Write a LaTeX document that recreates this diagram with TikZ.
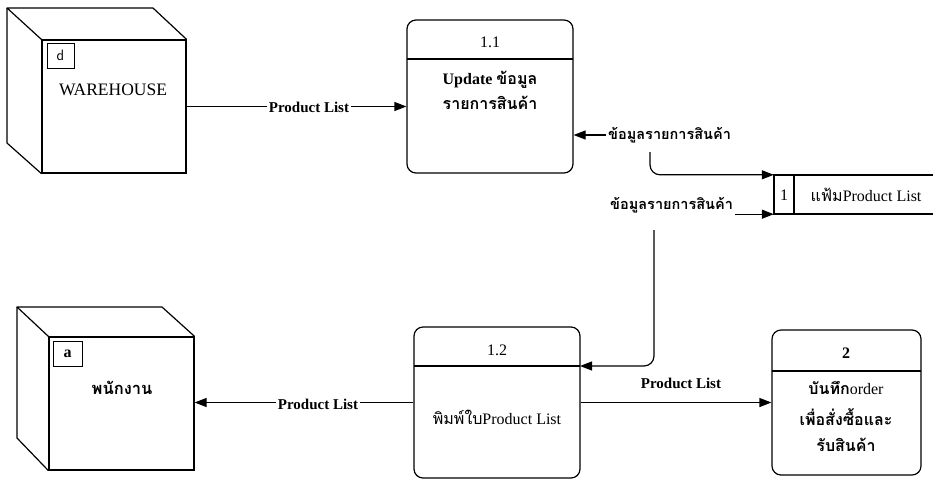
\documentclass[tikz,border=0pt]{standalone}
\usepackage{fontspec}
\setmainfont{Liberation Serif}
\newfontfamily\thai[Script=Thai]{Loma}
\usetikzlibrary{arrows.meta}
\newcommand{\T}[1]{{\thai #1}}
\tikzset{
  shp/.style={draw, line width=1.2pt, inner sep=0pt},
  proc/.style={shp, rounded corners=9pt},
  face/.style={shp},
  edge/.style={line width=1.2pt, line join=round},
  flow/.style={line width=1.2pt, -{Triangle[length=12pt,width=9pt]}},
  lbl/.style={fill=white, inner sep=2pt, font=\fontsize{15}{17}\selectfont\bfseries},
  tlbl/.style={fill=white, inner sep=2pt, font=\fontsize{14.5}{16}\selectfont\thai\bfseries},
  txt/.style={inner sep=0pt, font=\fontsize{16}{18}\selectfont},
  btxt/.style={inner sep=0pt, font=\fontsize{16}{18}\selectfont\bfseries},
}
\begin{document}
\begin{tikzpicture}[x=1pt,y=-1pt]
\useasboundingbox (0,0) rectangle (933,480);
% WAREHOUSE cube
\node[face, minimum width=144pt, minimum height=133pt] (wh) at (114,106.5) {};
\draw[edge] (wh.north west) -- (7,8) -- (153,8) -- (wh.north east);
\draw[edge] (7,8) -- (7,143) -- (wh.south west);
\node[shp, minimum width=27pt, minimum height=25pt, line width=1pt] (whid) at (60.5,55.5) {};
\node[font=\fontsize{15}{17}\selectfont\sffamily] at (whid) {d};
\node[font=\fontsize{17.5}{20}\selectfont] (whname) at (113,90) {WAREHOUSE};
% employee cube
\node[face, minimum width=145pt, minimum height=133pt] (emp) at (121.5,403.5) {};
\draw[edge] (emp.north west) -- (17,307) -- (162,307) -- (emp.north east);
\draw[edge] (17,307) -- (17,438) -- (emp.south west);
\node[shp, minimum width=29pt, minimum height=25pt, line width=1pt] (empid) at (67.5,353.5) {};
\node[btxt] at (empid) {a};
\node[font=\fontsize{16.5}{18}\selectfont\thai\bfseries] (empname) at (122,388) {พนักงาน};
% process 1.1
\node[proc, minimum width=166pt, minimum height=153pt] (p11) at (490,96.5) {};
\draw[edge] (407,59) -- (573,59);
\node[txt] (p11n) at (490,42) {1.1};
\node[btxt] (p11a) at (490,80) {Update \T{ข้อมูล}};
\node[btxt] (p11b) at (490,103) {\T{รายการสินค้า}};
% process 1.2
\node[proc, minimum width=166pt, minimum height=151pt] (p12) at (497,402.5) {};
\draw[edge] (414,366) -- (580,366);
\node[txt] (p12n) at (497,350) {1.2};
\node[txt] (p12a) at (497,417) {\T{พิมพ์ใบ}Product List};
% process 2
\node[proc, minimum width=149pt, minimum height=145pt] (p2) at (846.5,402.5) {};
\draw[edge] (772,371) -- (921,371);
\node[btxt] (p2n) at (846,353) {2};
\node[btxt] (p2a) at (846,388) {\T{บันทึก}\textmd{order}};
\node[btxt] (p2b) at (846,417) {\T{เพื่อสั่งซื้อและ}};
\node[btxt] (p2c) at (846,445) {\T{รับสินค้า}};
% data store
\node[inner sep=0pt, minimum width=159pt, minimum height=39pt] (ds) at (853.5,194.5) {};
\draw[edge] (773,175) -- (933,175);
\draw[edge] (773,214) -- (933,214);
\draw[edge] (774,175) -- (774,214);
\draw[edge] (794,175) -- (794,214);
\node[txt] (dsid) at (784,195) {1};
\node[txt] (dsname) at (866,195) {\T{แฟ้ม}Product List};
% flows
\draw[flow] (wh.east) -- (wh.east -| p11.west);
\node[lbl] (f1) at (309,107) {Product List};
\node[tlbl, anchor=west] (lab1) at (606,135) {ข้อมูลรายการสินค้า};
\draw[flow] (lab1.west) -- (lab1.west -| p11.east);
\coordinate (t1) at (650,152);
\draw[flow, rounded corners=10pt] (t1) |- (ds.north west);
\node[tlbl, anchor=west] (lab2) at (608,205) {ข้อมูลรายการสินค้า};
\draw[flow] (lab2.east |- ds.south west) -- (ds.south west);
\coordinate (t2) at (654,230);
\coordinate (p12d) at (580,366);
\draw[flow, rounded corners=10pt] (t2) |- (p12d);
\draw[flow] (p12.west) -- (p12.west -| emp.east);
\node[lbl] (f4) at (318,404) {Product List};
\draw[flow] (p12.east) -- (p12.east -| p2.west);
\node[lbl] (f5) at (681,383) {Product List};
\end{tikzpicture}
\end{document}
